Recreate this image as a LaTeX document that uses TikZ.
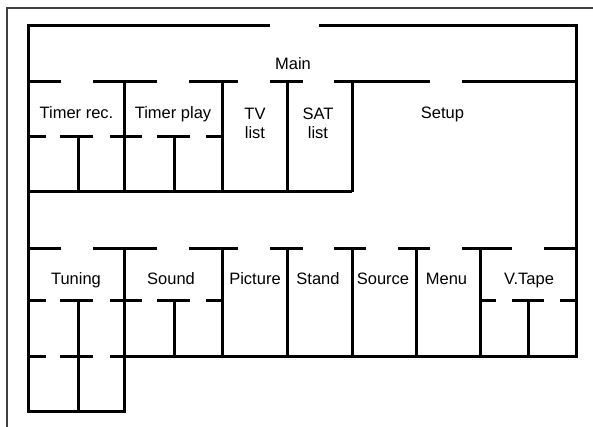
\documentclass[tikz,border=0pt]{standalone}
\usepackage{fontspec}
\setmainfont{Liberation Sans}
\begin{document}
\begin{tikzpicture}[x=1pt,y=-1pt,
  wall/.style={line width=3pt,black,line join=miter},
  frame/.style={line width=2pt,black!75},
  lbl/.style={font=\fontsize{16.5}{19}\selectfont,inner sep=0pt,anchor=base,align=center}]
\useasboundingbox (0,0) rectangle (593,427);
% outer frame
\draw[frame] (594,8) -- (7,8) -- (7,428);
% upper block
\draw[wall] (270,26) -- (28,26) -- (28,411) -- (124,411) -- (124,248);
\draw[wall] (319,26) -- (576,26) -- (576,356) -- (110,356);
\foreach \a/\b in {28/61,93/157,189/238,270/303,334/430,462/576}
  \draw[wall] (\a,82) -- (\b,82);
\foreach \x in {124,222,287,352}
  \draw[wall] (\x,82) -- (\x,192);
\draw[wall] (28,192) -- (352,192);
\foreach \a/\b in {28/46,60/93,110/142,157/190,206/222}
  \draw[wall] (\a,137) -- (\b,137);
\foreach \x in {78,174}
  \draw[wall] (\x,137) -- (\x,192);
% lower block
\foreach \a/\b in {28/61,93/157,189/238,270/303,334/366,398/430,462/512,544/576}
  \draw[wall] (\a,248) -- (\b,248);
\foreach \x in {222,287,352,416,480}
  \draw[wall] (\x,248) -- (\x,356);
\foreach \a/\b in {28/46,60/93,110/142,157/190,206/222,480/496,512/544,560/576}
  \draw[wall] (\a,300) -- (\b,300);
\draw[wall] (78,300) -- (78,411);
\draw[wall] (174,300) -- (174,356);
\draw[wall] (528,300) -- (528,356);
\foreach \a/\b in {28/46,60/93}
  \draw[wall] (\a,356) -- (\b,356);
% labels
\node[lbl] (main) at (293,70) {Main};
\node[lbl] (trec) at (76.5,119) {Timer rec.};
\node[lbl] (tplay) at (173,119) {Timer play};
\node[lbl] (tv) at (255,139) {TV\\list};
\node[lbl] (sat) at (318,139) {SAT\\list};
\node[lbl] (setup) at (442.5,119) {Setup};
\node[lbl] (tuning) at (76,284) {Tuning};
\node[lbl] (sound) at (171,284) {Sound};
\node[lbl] (picture) at (255,284) {Picture};
\node[lbl] (stand) at (318,284) {Stand};
\node[lbl] (source) at (383,284) {Source};
\node[lbl] (menu) at (446.5,284) {Menu};
\node[lbl] (vtape) at (529,284) {V.Tape};
\end{tikzpicture}
\end{document}
